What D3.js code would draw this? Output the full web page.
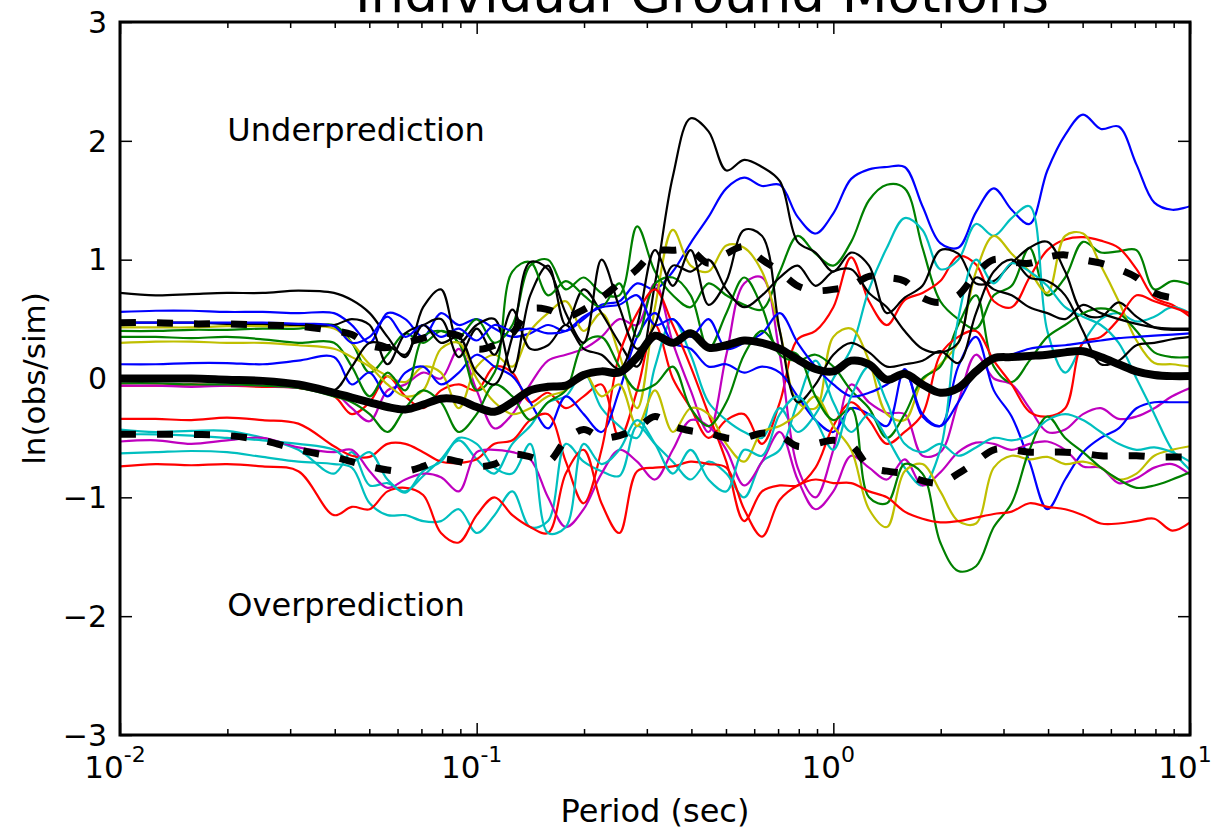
<!DOCTYPE html>
<html><head><meta charset="utf-8">
<script src="https://cdn.jsdelivr.net/npm/d3@7"></script>
<style>body{margin:0;background:#fff}svg{display:block}text{font-family:"DejaVu Sans",sans-serif;fill:#000}</style>
</head><body><svg id="c" width="1216" height="829"></svg>
<script>
const periods=[0.01,0.01259,0.01585,0.01995,0.02512,0.03162,0.03981,0.04467,0.05012,0.05623,0.0631,0.07079,0.07943,0.08913,0.1,0.1122,0.1259,0.1413,0.1585,0.1778,0.1995,0.2239,0.2512,0.2818,0.3162,0.3548,0.3981,0.4467,0.5012,0.5623,0.631,0.7079,0.7943,0.8913,1,1.122,1.259,1.413,1.585,1.778,1.995,2.239,2.512,2.818,3.162,3.548,3.981,4.467,5.012,5.623,6.31,7.079,7.943,8.913,10];

const meanVals=[0.0,0.0,0.0,-0.01,-0.02,-0.05,-0.12, -0.16,-0.2,-0.24,-0.26,-0.22,-0.17,-0.18, -0.24,-0.28,-0.2,-0.1,-0.07,-0.06,0.03, 0.06,0.05,0.18,0.36,0.3,0.38,0.26, 0.28,0.32,0.3,0.25,0.16,0.08,0.06, 0.15,0.12,-0.01,0.04,-0.05,-0.12,-0.08, 0.06,0.17,0.18,0.19,0.2,0.22,0.23, 0.18,0.12,0.06,0.03,0.02,0.02];
const plusStd=[0.47,0.47,0.46,0.46,0.45,0.44,0.40, 0.37,0.28,0.26,0.30,0.34,0.38,0.36, 0.25,0.28,0.38,0.58,0.58,0.52,0.58, 0.68,0.80,0.92,1.07,1.08,1.08,0.97, 1.05,1.11,1.0,0.9,0.78,0.74,0.75, 0.78,0.86,0.85,0.82,0.68,0.64,0.70, 0.88,1.0,0.98,0.97,1.02,1.04,1.0, 0.97,0.92,0.85,0.72,0.68,0.69];
const minusStd=[-0.47,-0.47,-0.47,-0.48,-0.52,-0.6,-0.66, -0.7,-0.74,-0.77,-0.78,-0.74,-0.68,-0.7, -0.74,-0.72,-0.64,-0.66,-0.7,-0.52,-0.43, -0.5,-0.48,-0.42,-0.32,-0.4,-0.44,-0.46, -0.5,-0.5,-0.46,-0.48,-0.57,-0.55,-0.52, -0.56,-0.74,-0.78,-0.8,-0.86,-0.88,-0.8, -0.7,-0.6,-0.6,-0.62,-0.62,-0.62,-0.63, -0.65,-0.65,-0.65,-0.66,-0.66,-0.66];

const blue1=[0.56,0.57,0.57,0.56,0.56,0.55,0.55, 0.45,0.3,0.55,0.5,0.35,0.55,0.45, 0.5,0.42,0.35,0.38,0.45,0.4,0.5, 0.62,0.65,0.8,0.75,0.9,1.14,1.36, 1.6,1.69,1.62,1.63,1.36,1.22,1.39, 1.68,1.76,1.78,1.78,1.45,1.14,1.1, 1.4,1.6,1.42,1.3,1.75,2.05,2.22, 2.1,2.12,1.8,1.48,1.42,1.45];
const green1=[0.40,0.40,0.41,0.41,0.42,0.42,0.45, 0.3,0.05,0.2,0.38,0.3,0.4,0.35, 0.5,0.3,0.45,0.95,1.0,0.75,0.85, 0.72,0.7,1.28,0.9,0.7,0.6,0.8, 0.7,0.62,0.58,0.9,1.2,1.05,0.95, 1.15,1.5,1.63,1.6,1.1,0.65,0.5, 0.42,0.7,0.78,1.1,0.7,0.85,1.15, 1.06,1.07,1.08,0.75,0.82,0.79];
const red1=[-0.06,-0.06,-0.05,-0.06,-0.07,-0.08,-0.15, -0.3,-0.2,0.02,-0.15,-0.25,-0.1,-0.05, -0.1,0.1,0.05,-0.2,-0.12,-0.25,-0.15, -0.05,-0.5,-0.1,0.45,0.0,-0.25,-0.5, -0.35,-0.3,-0.55,-0.2,0.33,0.4,0.6, 1.02,0.65,0.45,0.66,0.72,0.82,1.03, 0.96,0.65,0.6,0.85,1.08,1.17,1.19, 1.16,1.1,0.92,0.68,0.62,0.52];
const cyan1=[-0.43,-0.45,-0.44,-0.44,-0.5,-0.6,-0.8, -0.62,-0.9,-0.88,-0.95,-0.82,-0.68,-0.52, -0.68,-0.8,-0.55,-0.4,-0.2,-0.15,0.05, -0.25,-0.4,-0.5,0.1,0.5,0.2,-0.2, -0.35,-0.45,-0.5,-0.25,-0.45,-0.3,0.0, 0.25,0.75,1.1,1.35,1.25,0.92,1.0, 1.3,1.2,1.35,1.45,0.4,0.05,0.3, 0.5,0.55,0.48,0.52,0.6,0.55];
const magenta1=[-0.06,-0.06,-0.07,-0.06,-0.06,-0.08,-0.12, -0.25,-0.36,-0.1,-0.05,0.05,0.0,0.25, -0.1,-0.42,-0.3,-0.05,0.15,0.2,0.25, 0.35,0.5,0.45,0.8,0.3,-0.1,-0.45, 0.2,0.8,0.85,0.2,-0.75,-1.0,-0.6, -0.05,-0.2,-0.29,-0.3,-0.65,-0.62,-0.2, 0.2,0.0,-0.05,-0.25,-0.45,-0.43,-0.3, -0.25,-0.34,-0.32,-0.25,-0.15,-0.08];
const yellow1=[0.43,0.43,0.43,0.44,0.44,0.44,0.42, 0.3,0.12,0.02,-0.03,0.1,0.05,-0.25, 0.1,0.2,0.1,0.4,0.55,0.65,0.4, 0.55,0.2,-0.25,0.6,1.25,0.95,0.9, 1.12,1.1,0.9,0.4,-0.2,-0.25,0.35, 0.42,0.15,-0.3,-0.35,-0.02,0.12,0.3, 0.9,1.2,1.05,0.9,0.72,1.2,1.22, 0.95,0.65,0.32,0.13,0.12,0.1];
const black1=[0.72,0.70,0.71,0.72,0.72,0.74,0.72, 0.66,0.55,0.35,0.18,0.6,0.75,0.3, 0.45,0.5,0.05,0.7,0.95,0.45,0.75, 0.55,0.3,0.1,0.8,1.7,2.19,2.08, 1.75,1.84,1.78,1.66,1.15,1.06,0.9, 1.06,0.95,0.55,0.68,0.78,1.08,1.05, 0.8,0.82,0.97,1.1,1.15,0.9,0.55, 0.52,0.64,0.52,0.43,0.41,0.41];
const blue2=[0.12,0.12,0.13,0.13,0.12,0.15,0.18, -0.05,0.05,-0.15,0.05,0.1,-0.05,0.05, 0.2,0.1,0.02,-0.2,-0.42,-0.15,-0.3, -0.45,-0.1,0.35,0.55,0.3,0.25,0.1, 0.12,0.05,0.1,0.05,-0.15,-0.35,-0.45, -0.25,-0.3,-0.4,0.08,-0.32,-0.4,0.1, 0.35,-0.1,-0.32,-0.7,-1.1,-0.85,-0.62, -0.5,-0.42,-0.25,-0.2,-0.2,-0.2];
const green2=[0.35,0.35,0.34,0.35,0.33,0.3,0.3, 0.1,-0.15,0.05,-0.1,0.35,0.4,0.3, -0.1,0.05,0.9,0.98,0.7,0.82,0.7, 0.6,0.8,0.35,0.8,0.85,0.7,0.25, 0.55,0.85,0.6,0.2,0.15,0.2,0.1, -0.1,-0.25,-0.5,-0.3,0.0,0.1,0.45, 0.7,0.1,-0.03,0.15,0.35,0.45,0.55, 0.59,0.55,0.4,0.22,0.18,0.18];
const red2=[-0.34,-0.34,-0.35,-0.33,-0.35,-0.38,-0.57, -0.65,-0.66,-0.55,-0.55,-0.62,-0.7,-0.71, -0.68,-0.55,-0.52,-0.35,-0.3,-0.7,-1.05, -0.6,0.2,0.55,0.75,0.45,0.1,-0.3, -0.7,-1.2,-0.95,-0.9,-0.9,-0.75,-0.4, -0.2,-0.35,-0.55,-0.45,-0.3,0.2,0.35, 0.4,0.15,-0.05,-0.28,-0.32,-0.25,0.3, 0.35,0.5,0.7,0.65,0.6,0.55];
const cyan2=[-0.63,-0.62,-0.61,-0.62,-0.66,-0.7,-0.72, -0.75,-1.05,-1.15,-1.15,-1.2,-1.2,-1.1, -1.3,-1.15,-0.95,-1.25,-1.2,-0.55,-0.7, -0.78,-0.82,-0.4,-0.55,-0.7,-0.85,-0.7, -0.8,-1.0,-0.7,-0.6,-0.2,0.15,-0.2, -0.45,-0.3,-0.5,-0.75,-0.9,-0.6,0.5, 1.0,0.8,0.97,0.9,0.78,0.6,0.52, 0.45,0.3,0.0,-0.3,-0.6,-0.77];
const magenta2=[-0.53,-0.52,-0.55,-0.52,-0.5,-0.58,-0.62, -0.6,-0.78,-0.92,-0.85,-0.8,-0.83,-0.95, -0.62,-0.6,-0.62,-0.68,-1.0,-1.25,-1.1, -0.8,-0.6,-0.7,-0.85,-0.6,-0.35,-0.4, -0.6,-0.9,-0.7,-0.45,-0.85,-1.1,-0.95, -0.65,-0.75,-0.85,-0.68,-0.9,-0.79,-0.62, -0.54,-0.55,-0.6,-0.55,-0.53,-0.6,-0.74, -0.75,-0.88,-0.84,-0.75,-0.72,-0.81];
const yellow2=[0.30,0.31,0.31,0.30,0.3,0.28,0.25, 0.18,0.1,-0.05,-0.15,-0.1,0.25,0.3, 0.0,-0.2,-0.3,-0.25,-0.15,-0.1,0.05, -0.15,-0.05,-0.4,-0.1,-0.45,-0.25,-0.3, -0.55,-0.7,-0.45,-0.4,-0.3,-0.15,-0.4, -0.6,-1.1,-1.25,-0.78,-0.72,-0.95,-1.2, -1.22,-0.75,-0.65,-0.68,-0.66,-0.72,-0.7, -0.75,-0.85,-0.8,-0.65,-0.6,-0.57];
const black2=[0.47,0.47,0.47,0.46,0.46,0.45,0.45, 0.5,0.45,0.12,0.38,0.45,0.5,0.18, 0.42,0.2,0.58,0.25,0.28,0.45,0.25, 0.2,0.08,0.45,1.08,0.78,1.08,0.62, 0.82,1.25,1.2,0.4,-0.2,-0.05,0.2, 0.3,0.22,0.1,0.12,0.15,0.23,0.13, 0.55,0.9,1.0,0.85,0.82,0.7,0.4, 0.12,0.15,0.28,0.3,0.33,0.35];
const blue3=[0.47,0.47,0.47,0.47,0.47,0.46,0.44, 0.3,0.35,0.52,0.35,0.45,0.35,0.42, 0.32,0.45,0.4,0.42,0.38,0.4,0.52, 0.6,0.62,0.7,0.45,0.5,0.35,0.5, 0.25,0.3,0.38,0.55,0.3,0.1,-0.05, -0.15,-0.12,-0.05,0.05,-0.3,-0.4,-0.2, 0.05,0.15,0.2,0.25,0.27,0.28,0.3, 0.32,0.34,0.35,0.36,0.37,0.38];
const green3=[-0.04,-0.04,-0.05,-0.05,-0.06,-0.08,-0.15, -0.2,-0.3,-0.45,-0.25,-0.1,-0.2,-0.45, -0.3,-0.05,-0.15,-0.35,-0.2,-0.1,0.3, 0.35,0.1,-0.1,-0.05,0.1,-0.25,-0.4, -0.2,0.2,0.4,0.25,0.2,-0.15,-0.35, -0.25,-1.0,-1.05,-0.72,-0.8,-1.38,-1.62, -1.58,-1.25,-1.05,-0.6,-0.32,-0.5,-0.62, -0.75,-0.85,-0.92,-0.9,-0.85,-0.79];
const red3=[-0.74,-0.72,-0.73,-0.72,-0.74,-0.78,-1.15, -1.08,-1.1,-0.95,-0.92,-0.98,-1.3,-1.38, -1.15,-1.0,-1.15,-1.25,-1.3,-0.8,-0.6, -1.05,-1.3,-0.78,-0.75,-0.74,-0.7,-0.72, -0.75,-1.1,-1.33,-1.02,-0.9,-0.85,-0.88, -0.88,-0.95,-1.0,-1.12,-1.18,-1.21,-1.2, -1.17,-1.14,-1.12,-1.05,-1.08,-1.1,-1.15, -1.22,-1.22,-1.2,-1.18,-1.28,-1.21];
const cyan3=[-0.47,-0.47,-0.48,-0.5,-0.52,-0.55,-0.6, -0.7,-0.62,-0.85,-0.96,-0.78,-0.7,-0.5, -0.55,-0.75,-0.8,-0.55,-1.3,-1.25,-0.55, -0.72,-0.6,-0.35,-0.55,-0.8,-0.6,-0.85, -0.95,-0.6,-0.65,-0.3,-0.15,-0.35,-0.6, -0.15,0.1,-0.2,-0.55,-0.62,-0.55,-0.65, -0.58,-0.5,-0.52,-0.48,-0.35,-0.3,-0.35, -0.45,-0.55,-0.6,-0.58,-0.62,-0.7];
const black3=[0.0,0.0,0.0,-0.01,-0.02,-0.05,-0.1, 0.1,0.3,0.28,0.2,0.45,0.3,0.35, 0.05,-0.05,0.35,0.98,0.92,0.55,0.3, 1.0,0.6,0.25,0.45,0.95,0.9,1.0, 0.75,0.6,0.7,0.85,0.95,0.78,0.9, 0.92,0.72,0.6,0.4,0.25,0.22,0.3, 0.85,0.75,0.7,0.6,0.55,0.5,0.62, 0.55,0.5,0.46,0.43,0.42,0.42];

const yTicks=[-3,-2,-1,0,1,2,3];
const yTickLabels=["\u22123","\u22122","\u22121","0","1","2","3"];
const xMajor=[0.01,0.1,1,10];
const xMajorExp=["-2","-1","0","1"];
const titleText="Individual Ground Motions";
const xLabel="Period (sec)";
const yLabel="ln(obs/sim)";
const notes=[{t:0.02,v:2,text:"Underprediction"},{t:0.02,v:-2,text:"Overprediction"}];

const C={b:"#0000ff",g:"#008000",r:"#ff0000",c:"#00bfbf",m:"#bf00bf",y:"#bfbf00",k:"#000000"};
const series=[
 [blue1,C.b],[green1,C.g],[red1,C.r],[cyan1,C.c],[magenta1,C.m],[yellow1,C.y],[black1,C.k],
 [blue2,C.b],[green2,C.g],[red2,C.r],[cyan2,C.c],[magenta2,C.m],[yellow2,C.y],[black2,C.k],
 [blue3,C.b],[green3,C.g],[red3,C.r],[cyan3,C.c],[black3,C.k]
];

const svg=d3.select("#c");
const L=120,R=1190,T=22,B=735;
const x=d3.scaleLog().domain([0.01,10]).range([L,R]);
const y=d3.scaleLinear().domain([-3,3]).range([B,T]);

svg.append("clipPath").attr("id","pc").append("rect").attr("x",L).attr("y",T).attr("width",R-L).attr("height",B-T);
const plot=svg.append("g").attr("clip-path","url(#pc)");
const line=d3.line().x((d,i)=>x(periods[i])).y(d=>y(d)).curve(d3.curveCatmullRom.alpha(0.5));

series.forEach(([vals,col])=>{
  plot.append("path").datum(vals).attr("d",line).attr("fill","none")
    .attr("stroke",col).attr("stroke-width",2.2).attr("stroke-linejoin","round");
});
plot.append("path").datum(meanVals).attr("d",line).attr("fill","none").attr("stroke","#000").attr("stroke-width",8).attr("stroke-linejoin","round");
[plusStd,minusStd].forEach(v=>{
  plot.append("path").datum(v).attr("d",line).attr("fill","none").attr("stroke","#000")
   .attr("stroke-width",7).attr("stroke-dasharray","16,21");
});

const minor=[];
[0.01,0.1,1].forEach(d=>{for(let k=2;k<10;k++)minor.push(d*k);});

function styleAxis(g){g.select(".domain").remove();g.selectAll(".tick line").attr("stroke","#000").attr("stroke-width",1.5);g.selectAll(".tick text").remove();}
svg.append("g").attr("transform",`translate(0,${B})`).call(d3.axisBottom(x).tickValues(xMajor).tickSize(-12)).call(styleAxis);
svg.append("g").attr("transform",`translate(0,${B})`).call(d3.axisBottom(x).tickValues(minor).tickSize(-6)).call(styleAxis);
svg.append("g").attr("transform",`translate(0,${T})`).call(d3.axisTop(x).tickValues(xMajor).tickSize(-12)).call(styleAxis);
svg.append("g").attr("transform",`translate(0,${T})`).call(d3.axisTop(x).tickValues(minor).tickSize(-6)).call(styleAxis);
svg.append("g").attr("transform",`translate(${L},0)`).call(d3.axisLeft(y).tickValues(yTicks).tickSize(-12)).call(styleAxis);
svg.append("g").attr("transform",`translate(${R},0)`).call(d3.axisRight(y).tickValues(yTicks).tickSize(-12)).call(styleAxis);

svg.append("rect").attr("x",L).attr("y",T).attr("width",R-L).attr("height",B-T).attr("fill","none").attr("stroke","#000").attr("stroke-width",3);

yTicks.forEach((v,i)=>{
  svg.append("text").attr("x",L-13).attr("y",y(v)).attr("dy","0.36em").attr("text-anchor","end").attr("font-size",30).text(yTickLabels[i]);
});
xMajor.forEach((v,i)=>{
  const t=svg.append("text").attr("x",x(v)-5).attr("y",B+43).attr("text-anchor","middle").attr("font-size",31);
  t.append("tspan").text("10");
  t.append("tspan").attr("dy",-16).attr("font-size",22).text(xMajorExp[i]);
});
svg.append("text").attr("x",(L+R)/2).attr("y",822).attr("text-anchor","middle").attr("font-size",32).text(xLabel);
svg.append("text").attr("transform",`translate(45,${(T+B)/2}) rotate(-90)`).attr("text-anchor","middle").attr("font-size",31).text(yLabel);
svg.append("text").attr("x",702).attr("y",12).attr("text-anchor","middle").attr("font-size",53).text(titleText);
notes.forEach(n=>{
  svg.append("text").attr("x",x(n.t)).attr("y",y(n.v)).attr("font-size",32).text(n.text);
});
</script></body></html>
